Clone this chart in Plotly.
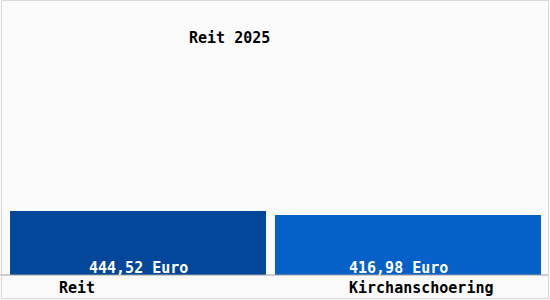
import plotly.graph_objects as go

# ---- data ----
categories = ["Reit", "Kirchanschoering"]
values = [444.52, 416.98]
title_text = "Reit 2025"
unit = "Euro"

# ---- style ----
bar_colors = ["#03479a", "#0561c8"]
bar_widths = [0.948, 0.985]
font_family = "DejaVu Sans Mono"
W, H = 550, 300
m_l, m_r, m_t, m_b = 3, 7, 5, 25
plot_w = W - m_l - m_r
plot_h = H - m_t - m_b

def fmt(v):
    return f"<b>{v:.2f}".replace(".", ",") + " " + unit + "</b>"

fig = go.Figure()
fig.add_trace(go.Bar(
    x=categories, y=values, width=bar_widths,
    marker=dict(color=bar_colors, line=dict(width=0)),
    hoverinfo="skip",
))

# value labels inside bars (near the bottom)
label_xshift = [0, -10]
for cat, v, xs in zip(categories, values, label_xshift):
    fig.add_annotation(x=cat, y=0, xref="x", yref="y", text=fmt(v),
                       showarrow=False, yanchor="middle", yshift=7, xshift=xs,
                       font=dict(family=font_family, size=15, color="white"))

# category labels below axis
cat_xshift = [-61, 13]
for cat, xs in zip(categories, cat_xshift):
    fig.add_annotation(x=cat, y=-13 / plot_h, xref="x", yref="paper", text=f"<b>{cat}</b>",
                       showarrow=False, yanchor="middle", xshift=xs,
                       font=dict(family=font_family, size=15, color="black"))

# title
fig.add_annotation(x=(229.5 - m_l) / plot_w, y=(plot_h + m_t - 38) / plot_h,
                   xref="paper", yref="paper", text=f"<b>{title_text}</b>", showarrow=False,
                   xanchor="center", yanchor="middle",
                   font=dict(family=font_family, size=15, color="black"))

# axis baseline across full width
fig.add_shape(type="line", xref="paper", yref="paper",
              x0=-m_l / plot_w, x1=(W - m_l - 2) / plot_w, y0=0, y1=0,
              line=dict(color="#a0a0a0", width=1))
# outer border
fig.add_shape(type="rect", xref="paper", yref="paper",
              x0=-(m_l - 1.5) / plot_w, x1=(W - m_l - 1.5) / plot_w,
              y0=-(m_b - 1.5) / plot_h, y1=(plot_h + m_t - 0.5) / plot_h,
              line=dict(color="#d8d8d8", width=1))

ymax = max(values) * plot_h / 64.0
fig.update_layout(
    width=W, height=H,
    margin=dict(l=m_l, r=m_r, t=m_t, b=m_b),
    paper_bgcolor="#fafafa", plot_bgcolor="#fafafa",
    showlegend=False,
    xaxis=dict(showticklabels=False, showgrid=False, zeroline=False, showline=False, ticks=""),
    yaxis=dict(range=[0, ymax], visible=False, showgrid=False, zeroline=False),
)

fig.write_html("out.html", config={"displayModeBar": False})
